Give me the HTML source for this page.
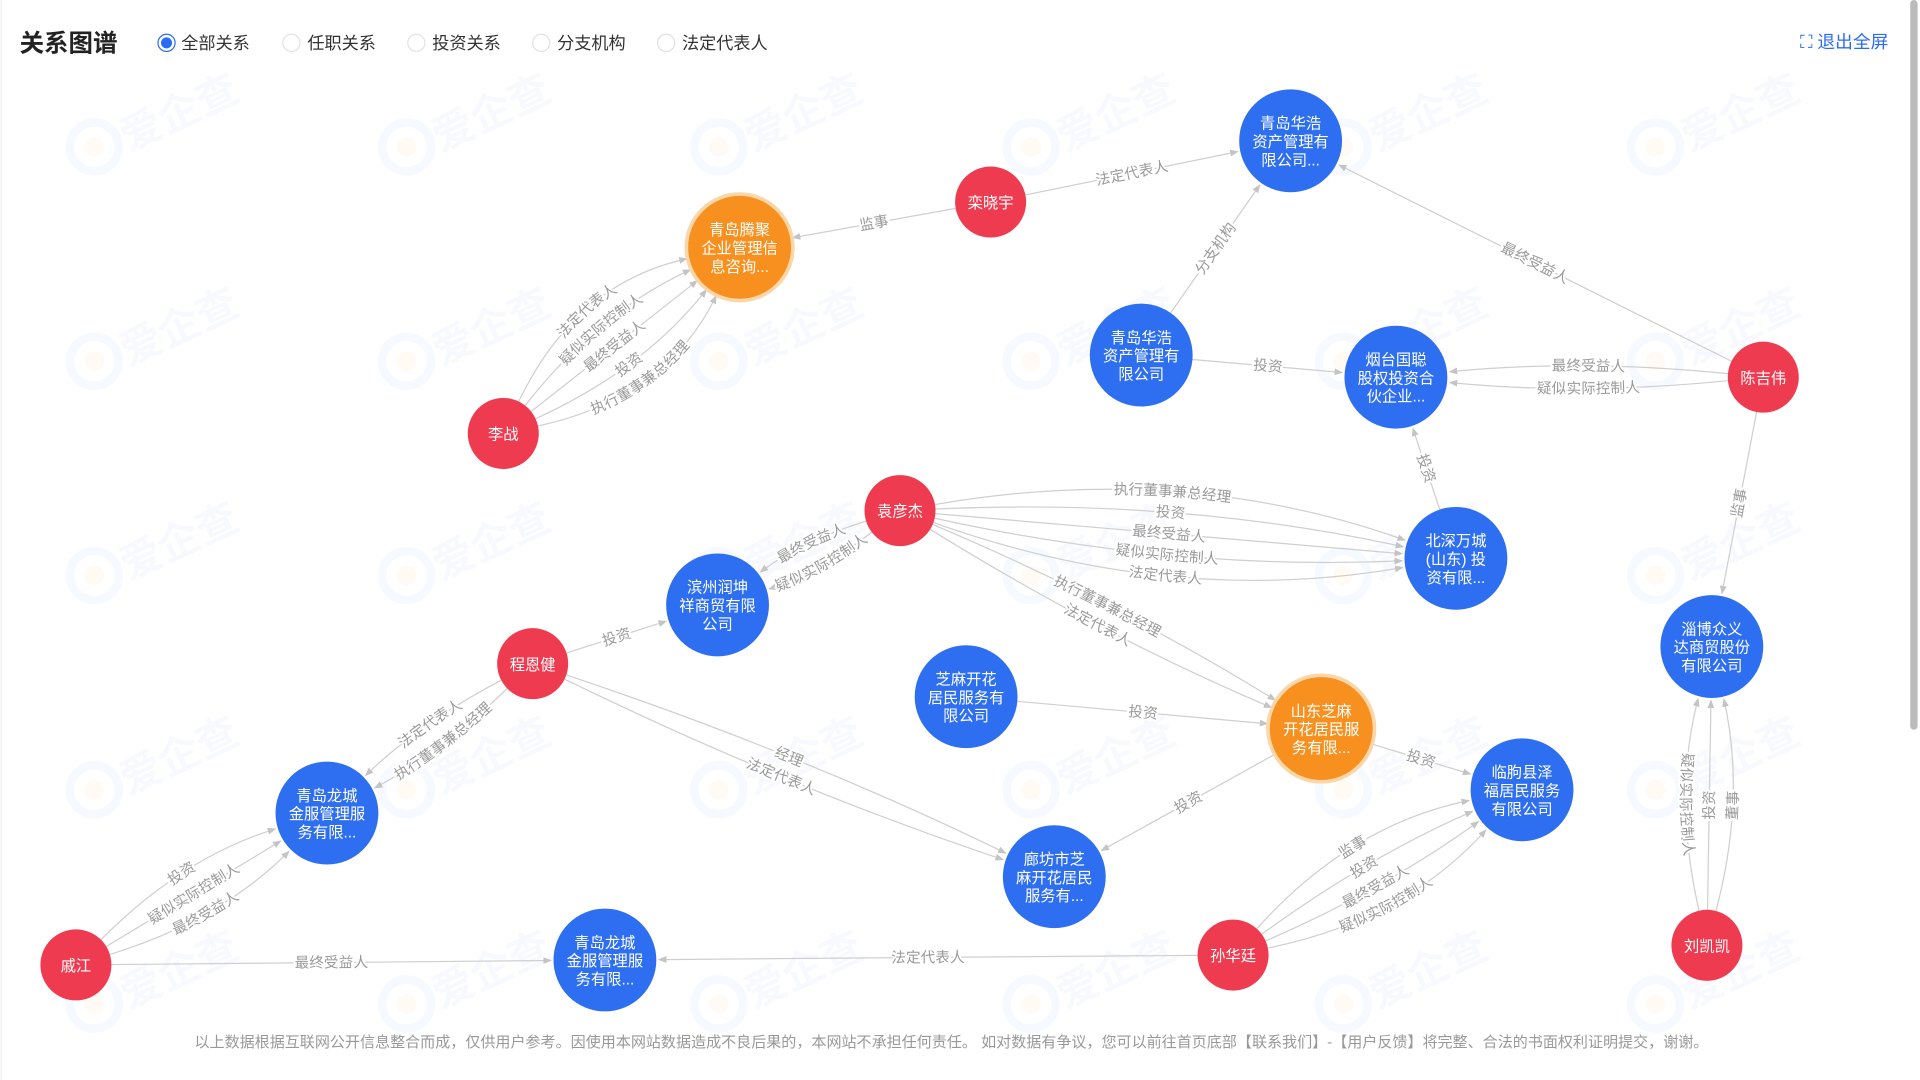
<!DOCTYPE html>
<html><head><meta charset="utf-8">
<style>
html,body{margin:0;padding:0;background:#fff;width:1920px;height:1080px;overflow:hidden}
svg{display:block}
text{font-family:"Liberation Sans","Noto Sans CJK SC",sans-serif}
</style></head>
<body>
<svg id="g" width="1920" height="1080" viewBox="0 0 1568 882" preserveAspectRatio="none" xmlns="http://www.w3.org/2000/svg">
<defs>
<marker id="arr" viewBox="0 0 10 10" refX="9" refY="5" markerWidth="7" markerHeight="7" orient="auto-start-reverse"><path d="M0,1 L10,5 L0,9 z" fill="#c4c4c4"/></marker>
</defs>
<g id="wm" opacity="0.55"></g>
<text x="16" y="42" font-size="20" font-weight="bold" fill="#222">关系图谱</text>
<g><circle cx="136" cy="35" r="7" fill="#fff" stroke="#2b6cf6"/><circle cx="136" cy="35" r="4.5" fill="#2b6cf6"/><text x="148" y="40" font-size="14" fill="#333">全部关系</text></g>
<g><circle cx="238" cy="35" r="7" fill="#fff" stroke="#e2e2e2"/><text x="251" y="40" font-size="14" fill="#333">任职关系</text></g>
<g><circle cx="340" cy="35" r="7" fill="#fff" stroke="#e2e2e2"/><text x="353" y="40" font-size="14" fill="#333">投资关系</text></g>
<g><circle cx="442" cy="35" r="7" fill="#fff" stroke="#e2e2e2"/><text x="455" y="40" font-size="14" fill="#333">分支机构</text></g>
<g><circle cx="544" cy="35" r="7" fill="#fff" stroke="#e2e2e2"/><text x="557" y="40" font-size="14" fill="#333">法定代表人</text></g>
<g><text x="1470" y="39" font-size="14.5" fill="#2b6cf6">⛶ 退出全屏</text></g>
<rect x="1560" y="0" width="6" height="596" rx="3" fill="#bbb"/>
<line x1="1" y1="0" x2="1" y2="882" stroke="#eee"/>
<g id="edges"></g>
<g id="nodes"></g>
<text x="777" y="855" font-size="12.3" fill="#999" text-anchor="middle">以上数据根据互联网公开信息整合而成，仅供用户参考。因使用本网站数据造成不良后果的，本网站不承担任何责任。 如对数据有争议，您可以前往首页底部【联系我们】-【用户反馈】将完整、合法的书面权利证明提交，谢谢。</text>
</svg>
<script>
const NS="http://www.w3.org/2000/svg";
const nodeIds=["hh1","lxy","tj","lz","hh2","yt","cjw","yyj","bs","bz","zb","cej","zm","sd","lq","lc1","lf","qj","lc2","sht","lkk"];
const nodeLabels=[["青岛华浩","资产管理有","限公司..."],["栾晓宇"],["青岛腾聚","企业管理信","息咨询..."],["李战"],["青岛华浩","资产管理有","限公司"],["烟台国聪","股权投资合","伙企业..."],["陈吉伟"],["袁彦杰"],["北深万城","(山东) 投","资有限..."],["滨州润坤","祥商贸有限","公司"],["淄博众义","达商贸股份","有限公司"],["程恩健"],["芝麻开花","居民服务有","限公司"],["山东芝麻","开花居民服","务有限..."],["临朐县泽","福居民服务","有限公司"],["青岛龙城","金服管理服","务有限..."],["廊坊市芝","麻开花居民","服务有..."],["戚江"],["青岛龙城","金服管理服","务有限..."],["孙华廷"],["刘凯凯"]];
const nodeTypes=["c","p","o","p","c","c","p","p","c","c","c","p","c","o","c","c","c","p","c","p","p"];
const nodeX=[1054,809,604,411,932,1140,1440,735,1189,586,1398,435,789,1079,1243,267,861,62,494,1007,1394];
const nodeY=[115,165,202,354,290,308,308,417,456,494,528,542,569,595,645,664,716,788,784,780,772];
const edgeFrom=["lxy","lxy","hh2","cjw","lz","hh2","cjw","bs","cjw","yyj","yyj","yyj","cej","cej","cej","zm","sd","sd","qj","qj","sht","sht","lkk"];
const edgeTo=["hh1","tj","hh1","hh1","tj","yt","yt","yt","zb","bs","bz","sd","bz","lc1","lf","sd","lq","lf","lc1","lc2","lc2","lq","zb"];
const edgeLabels=[["法定代表人"],["监事"],["分支机构"],["最终受益人"],["法定代表人","疑似实际控制人","最终受益人","投资","执行董事兼总经理"],["投资"],["最终受益人","疑似实际控制人"],["投资"],["监事"],["执行董事兼总经理","投资","最终受益人","疑似实际控制人","法定代表人"],["最终受益人","疑似实际控制人"],["执行董事兼总经理","法定代表人"],["投资"],["法定代表人","执行董事兼总经理"],["经理","法定代表人"],["投资"],["投资"],["投资"],["投资","疑似实际控制人","最终受益人"],["最终受益人"],["法定代表人"],["监事","投资","最终受益人","疑似实际控制人"],["疑似实际控制人","投资","董事"]];

const rad=t=>t==="p"?29:42;
const idx=id=>nodeIds.indexOf(id);
const wm=document.getElementById('wm');
for(let r=0;r<5;r++)for(let c=0;c<6;c++){
  const x=55+c*255,y=110+r*175;
  const g=document.createElementNS(NS,'g');
  
  
  g.innerHTML=`<circle cx="${x+22}" cy="${y+10}" r="20" fill="none" stroke="#eef4ff" stroke-width="7"/><circle cx="${x+22}" cy="${y+10}" r="8" fill="#fff8ec"/><text x="${x+50}" y="${y+14}" font-size="34" font-weight="bold" fill="#f0f5ff" transform="rotate(-25 ${x+50} ${y+14})">爱企查</text>`;
  wm.appendChild(g);
}
const eg=document.getElementById('edges');
let pid=0;
edgeFrom.forEach((f,i)=>{
  const a=idx(f),b=idx(edgeTo[i]);
  const x1=nodeX[a],y1=nodeY[a],x2=nodeX[b],y2=nodeY[b];
  const dx=x2-x1,dy=y2-y1,L=Math.hypot(dx,dy);
  const nx=-dy/L,ny=dx/L;
  let labs=edgeLabels[i].slice();
  if(x1>x2)labs.reverse();
  const k=labs.length;
  labs.forEach((lab,j)=>{
    const off=(j-(k-1)/2)*30;
    const cx=(x1+x2)/2+nx*off,cy=(y1+y2)/2+ny*off;
    const ra=rad(nodeTypes[a]),rb=rad(nodeTypes[b]);
    let ux=cx-x1,uy=cy-y1,ul=Math.hypot(ux,uy);
    const sx=x1+ux/ul*ra,sy=y1+uy/ul*ra;
    let vx=cx-x2,vy=cy-y2,vl=Math.hypot(vx,vy);
    const ex=x2+vx/vl*(rb+2),ey=y2+vy/vl*(rb+2);
    const p=document.createElementNS(NS,'path');
    
    
    p.setAttribute('d',`M${sx},${sy} Q${cx},${cy} ${ex},${ey}`);
    p.setAttribute('fill','none');p.setAttribute('stroke','#cfcfcf');p.setAttribute('stroke-width','1');
    p.setAttribute('marker-end','url(#arr)');
    eg.appendChild(p);
    const tp=document.createElementNS(NS,'path');
    const id='tp'+(pid++);
    tp.setAttribute('id',id);
    tp.setAttribute('d',sx<=ex?`M${sx},${sy} Q${cx},${cy} ${ex},${ey}`:`M${ex},${ey} Q${cx},${cy} ${sx},${sy}`);
    tp.setAttribute('fill','none');
    eg.appendChild(tp);
    const t=document.createElementNS(NS,'text');
    
    
    t.setAttribute('font-size','12');t.setAttribute('fill','#9a9a9a');
    t.setAttribute('dy','4');
    t.setAttribute('stroke','#fff');t.setAttribute('stroke-width','3');t.setAttribute('paint-order','stroke');
    const tpp=document.createElementNS(NS,'textPath');
    tpp.setAttribute('href','#'+id);tpp.setAttribute('startOffset','50%');tpp.setAttribute('text-anchor','middle');
    tpp.textContent=lab;
    t.appendChild(tpp);eg.appendChild(t);
  });
});
const ng=document.getElementById('nodes');
nodeIds.forEach((id,i)=>{
  const g=document.createElementNS(NS,'g');
  
  
  const t=nodeTypes[i],r=rad(t),x=nodeX[i],y=nodeY[i];
  const col=t==="p"?"#ef3b4f":t==="o"?"#f7901e":"#2d6ff0";
  let s='';
  if(t==="o")s+=`<circle cx="${x}" cy="${y}" r="${r+3}" fill="#fbd6a8"/>`;
  s+=`<circle cx="${x}" cy="${y}" r="${r}" fill="${col}"/>`;
  const ls=nodeLabels[i],n=ls.length;
  ls.forEach((l,j)=>{s+=`<text x="${x}" y="${y+5+(j-(n-1)/2)*15}" font-size="12.5" fill="#fff" text-anchor="middle">${l}</text>`;});
  g.innerHTML=s;ng.appendChild(g);
});
</script>
</body></html>
